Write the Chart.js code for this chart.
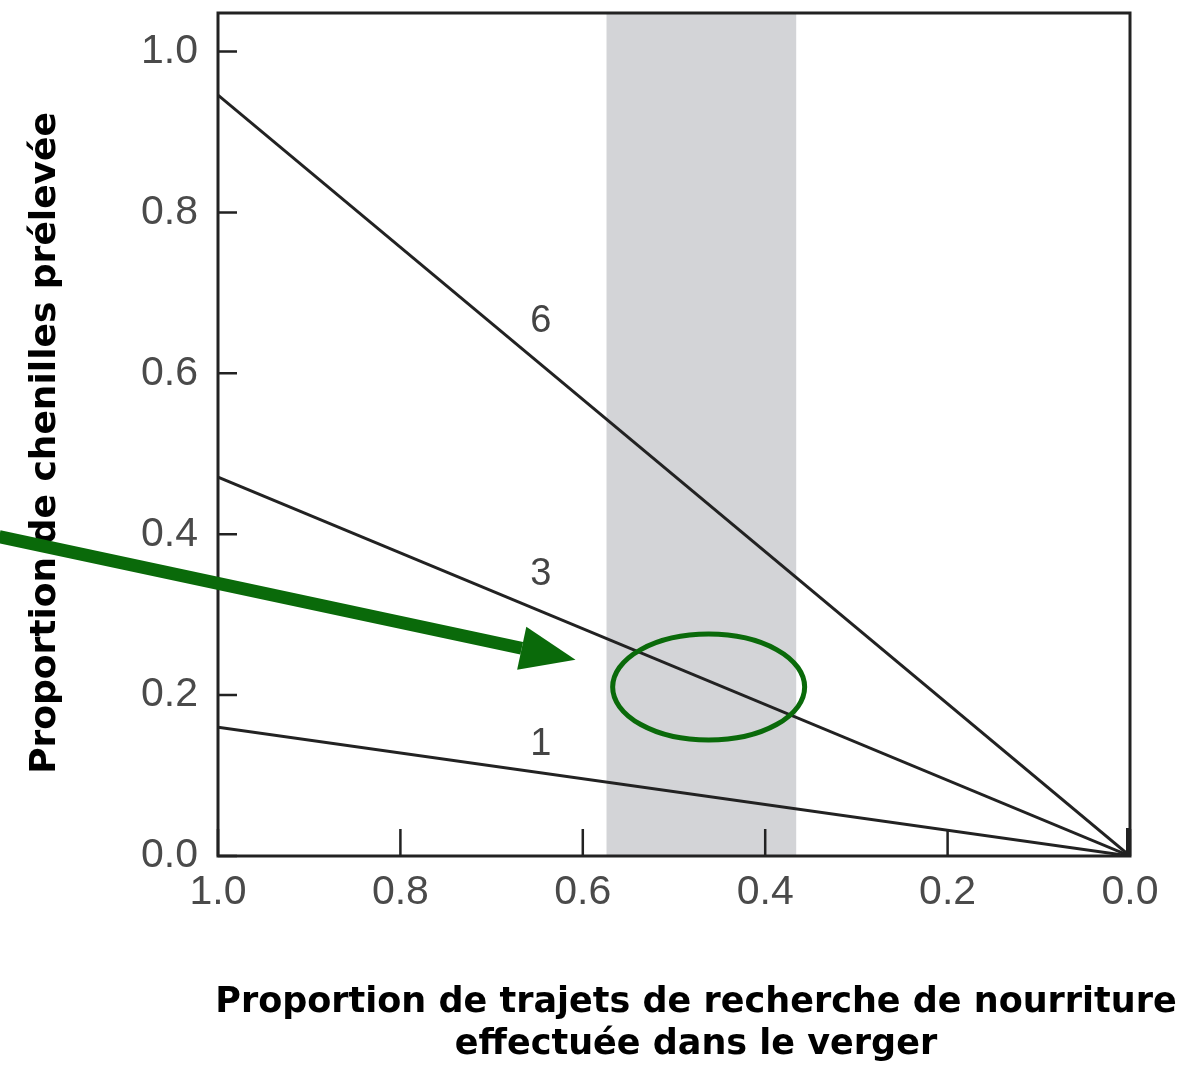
<!DOCTYPE html>
<html lang="fr">
<head>
<meta charset="UTF-8">
<title>Proportion de chenilles prélevée</title>
<script src="https://cdn.jsdelivr.net/npm/chart.js"></script>
<style>
    html, body { margin: 0; padding: 0; background: #fff; }
    #wrap { width: 1204px; height: 1081px; position: relative; }
</style>
</head>
<body>
<div id="wrap"><canvas id="chart"></canvas></div>
<script>
// données
const xPoints = [1.0, 0.0];
const seriesNames = ['6', '3', '1'];
const series6 = [0.946, 0];
const series3 = [0.471, 0];
const series1 = [0.160, 0];
const yTicks = [0, 0.2, 0.4, 0.6, 0.8, 1.0];
const bandRange = [0.574, 0.366];           // zone grisée (axe x)
const labelPos = [[0.646, 0.664], [0.646, 0.350], [0.646, 0.139]];
const ellipseCenter = [0.462, 0.210];
const arrowFrom = [1.24, 0.397];
const arrowTo = [0.608, 0.244];
const yTitle = 'Proportion de chenilles prélevée';
const xTitle = ['Proportion de trajets de recherche de nourriture', 'effectuée dans le verger'];

const ink = '#222';
const green = '#0a6a0a';

function toPoints(ys) {
    return xPoints.map((x, i) => ({ x: x, y: ys[i] }));
}

const decorPlugin = {
    id: 'decor',
    beforeDatasetsDraw(chart) {
        const { ctx, chartArea: a, scales: { x } } = chart;
        const x1 = x.getPixelForValue(bandRange[0]);
        const x2 = x.getPixelForValue(bandRange[1]);
        ctx.save();
        ctx.fillStyle = '#d3d4d7';
        ctx.fillRect(x1, a.top, x2 - x1, a.bottom - a.top);
        ctx.restore();
    },
    afterDraw(chart) {
        const { ctx, chartArea: a, scales: { x, y } } = chart;
        ctx.save();

        // cadre
        ctx.strokeStyle = ink;
        ctx.lineWidth = 3;
        ctx.strokeRect(a.left, a.top, a.right - a.left, a.bottom - a.top);

        // graduations vers l'intérieur
        ctx.lineWidth = 2.5;
        ctx.beginPath();
        yTicks.forEach(v => {
            const py = y.getPixelForValue(v);
            ctx.moveTo(a.left, py);
            ctx.lineTo(a.left + 19, py);
        });
        x.ticks.forEach(t => {
            const px = x.getPixelForValue(t.value);
            ctx.moveTo(px, a.bottom);
            ctx.lineTo(px, a.bottom - 27);
        });
        ctx.stroke();
        ctx.fillStyle = ink;
        ctx.fillRect(a.right - 4, a.bottom - 28, 5, 28);

        // numéros des courbes
        ctx.fillStyle = '#444';
        ctx.font = '38px "Liberation Sans", Arial, sans-serif';
        ctx.textAlign = 'center';
        ctx.textBaseline = 'middle';
        labelPos.forEach((p, i) => {
            ctx.fillText(seriesNames[i], x.getPixelForValue(p[0]), y.getPixelForValue(p[1]));
        });

        // titres des axes
        ctx.fillStyle = '#000';
        ctx.font = 'bold 35px "DejaVu Sans", "Liberation Sans", sans-serif';
        ctx.fillText(xTitle[0], 696, 1003);
        ctx.fillText(xTitle[1], 696, 1045);
        ctx.save();
        ctx.translate(46, 443);
        ctx.rotate(-Math.PI / 2);
        ctx.font = 'bold 36px "DejaVu Sans", "Liberation Sans", sans-serif';
        ctx.fillText(yTitle, 0, 0);
        ctx.restore();

        // ellipse verte
        const cx = x.getPixelForValue(ellipseCenter[0]);
        const cy = y.getPixelForValue(ellipseCenter[1]);
        ctx.strokeStyle = green;
        ctx.lineWidth = 5;
        ctx.beginPath();
        ctx.ellipse(cx, cy, 96, 53, 0, 0, Math.PI * 2);
        ctx.stroke();

        // flèche verte
        const sx = x.getPixelForValue(arrowFrom[0]), sy = y.getPixelForValue(arrowFrom[1]);
        const tx = x.getPixelForValue(arrowTo[0]), ty = y.getPixelForValue(arrowTo[1]);
        const ang = Math.atan2(ty - sy, tx - sx);
        const headLen = 55, headHalf = 22;
        const bx = tx - headLen * Math.cos(ang), by = ty - headLen * Math.sin(ang);
        ctx.lineWidth = 13;
        ctx.lineCap = 'butt';
        ctx.beginPath();
        ctx.moveTo(sx, sy);
        ctx.lineTo(bx, by);
        ctx.stroke();
        ctx.fillStyle = green;
        ctx.beginPath();
        ctx.moveTo(tx, ty);
        ctx.lineTo(bx + headHalf * Math.sin(ang), by - headHalf * Math.cos(ang));
        ctx.lineTo(bx - headHalf * Math.sin(ang), by + headHalf * Math.cos(ang));
        ctx.closePath();
        ctx.fill();

        ctx.restore();
    }
};

const lineStyle = { borderColor: ink, borderWidth: 3, pointRadius: 0, showLine: true, fill: false };

new Chart(document.getElementById('chart'), {
    type: 'scatter',
    data: {
        datasets: [
            Object.assign({ label: seriesNames[0], data: toPoints(series6) }, lineStyle),
            Object.assign({ label: seriesNames[1], data: toPoints(series3) }, lineStyle),
            Object.assign({ label: seriesNames[2], data: toPoints(series1) }, lineStyle)
        ]
    },
    options: {
        responsive: true,
        maintainAspectRatio: false,
        animation: false,
        layout: { padding: { left: 100, right: 74, top: 13, bottom: 0 } },
        plugins: { legend: { display: false }, tooltip: { enabled: false } },
        scales: {
            x: {
                type: 'linear',
                reverse: true,
                min: 0,
                max: 1,
                grid: { display: false },
                border: { display: false },
                ticks: {
                    stepSize: 0.2,
                    padding: 4,
                    color: '#4a4a4a',
                    font: { size: 41, family: '"Liberation Sans", Arial, sans-serif' },
                    callback: v => v.toFixed(1)
                },
                afterFit: s => { s.height = 225; s.paddingLeft = 0; s.paddingRight = 0; }
            },
            y: {
                type: 'linear',
                min: 0,
                max: 1.048,
                grid: { display: false },
                border: { display: false },
                afterBuildTicks: s => { s.ticks = yTicks.map(v => ({ value: v })); },
                ticks: {
                    padding: 12,
                    color: '#4a4a4a',
                    font: { size: 41, family: '"Liberation Sans", Arial, sans-serif' },
                    callback: v => v.toFixed(1)
                },
                afterFit: s => { s.width = 118; s.paddingTop = 0; s.paddingBottom = 0; }
            }
        }
    },
    plugins: [decorPlugin]
});
</script>
</body>
</html>
